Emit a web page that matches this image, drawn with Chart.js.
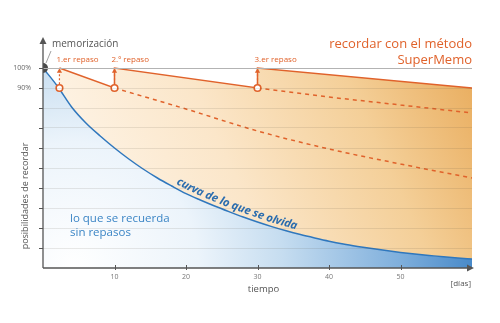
<!DOCTYPE html>
<html>
<head>
<meta charset="utf-8">
<script src="https://cdn.jsdelivr.net/npm/chart.js@4.4.1/dist/chart.umd.min.js"></script>
<style>
  html, body { margin: 0; padding: 0; background: #fff; }
  #wrap { width: 500px; height: 323px; position: relative; }
</style>
</head>
<body>
<div id="wrap"><canvas id="curvaOlvido"></canvas></div>
<script>
// datos
const days = [0, 2, 4, 6, 8, 10, 12, 14, 16, 18, 20, 22, 24, 26, 28, 30, 32, 34, 36, 38, 40, 42, 44, 46, 48, 50, 52, 54, 56, 58, 60];
const forgetting = [100, 91, 80.5, 72.5, 66, 60, 54.5, 49.5, 45, 41, 37.2, 34, 31, 28.2, 25.5, 23, 20.7, 18.6, 16.7, 15, 13.4, 12, 10.8, 9.7, 8.7, 7.8, 7, 6.3, 5.6, 5, 4.5];

const repasoDays = [2.3, 10, 30];
const repasoLabels = ['1.er repaso', '2.º repaso', '3.er repaso'];
const repasoLevel = 90;

const supermemoX = [2.3, 10, 10, 30, 30, 60];
const supermemoY = [100, 90, 100, 90, 100, 90];

const decay2X = [10, 20, 30, 40, 50, 60];
const decay2Y = [90, 79.5, 68.5, 59.5, 52, 45];
const decay3X = [30, 40, 50, 60];
const decay3Y = [90, 85.5, 81.5, 77.5];

const xTicks = [10, 20, 30, 40, 50];
const yTickLabels = { 100: '100%', 90: '90%' };

const ORANGE = '#e0622b';
const BLUE = '#2f77bd';
const GREY = '#555';
const FONT = "'Open Sans', sans-serif";

const zip = (xs, ys) => xs.map((x, i) => ({ x, y: ys[i] }));

function blueFill(ctx) {
  const a = ctx.chart.chartArea;
  if (!a) return '#cfe1f2';
  const g = ctx.chart.ctx.createRadialGradient(a.left + 30, a.bottom, 0, a.left + 30, a.bottom, a.right - a.left - 10);
  g.addColorStop(0, '#ffffff');
  g.addColorStop(0.3, '#ecf4fb');
  g.addColorStop(0.5, '#c6ddf0');
  g.addColorStop(0.78, '#7fafdc');
  g.addColorStop(1, '#3a80c4');
  return g;
}

function orangeFill(ctx) {
  const a = ctx.chart.chartArea;
  if (!a) return '#f8dcb5';
  const g = ctx.chart.ctx.createLinearGradient(a.left, a.bottom, a.right, a.top + 30);
  g.addColorStop(0, '#fffaf4');
  g.addColorStop(0.45, '#fbe6c9');
  g.addColorStop(0.75, '#f4cf98');
  g.addColorStop(1, '#e9ad5e');
  return g;
}

const arrowSets = repasoDays.map(d => ({
  data: [{ x: d, y: 91.9 }, { x: d, y: 98.4 }],
  borderColor: ORANGE,
  borderWidth: 1.2,
  borderDash: [2, 2],
  pointRadius: [0, 3],
  pointStyle: 'triangle',
  pointBackgroundColor: ORANGE,
  pointBorderColor: ORANGE,
  pointBorderWidth: 0,
  fill: false,
  order: 1
}));

const annotations = {
  id: 'annotations',
  afterDraw(chart) {
    const { ctx, scales: { x, y }, chartArea: a } = chart;
    ctx.save();
    // ejes
    ctx.strokeStyle = GREY;
    ctx.fillStyle = GREY;
    ctx.lineWidth = 1.3;
    ctx.beginPath();
    ctx.moveTo(a.left, a.bottom);
    ctx.lineTo(a.left, a.top + 4);
    ctx.moveTo(a.left, a.bottom);
    ctx.lineTo(a.right - 3, a.bottom);
    ctx.stroke();
    ctx.beginPath();
    ctx.moveTo(a.left, a.top - 1);
    ctx.lineTo(a.left - 3.5, a.top + 6);
    ctx.lineTo(a.left + 3.5, a.top + 6);
    ctx.closePath();
    ctx.fill();
    ctx.beginPath();
    ctx.moveTo(a.right + 2, a.bottom);
    ctx.lineTo(a.right - 5, a.bottom - 3.5);
    ctx.lineTo(a.right - 5, a.bottom + 3.5);
    ctx.closePath();
    ctx.fill();
    ctx.lineWidth = 1;
    ctx.beginPath();
    for (let v = 10; v <= 100; v += 10) {
      const py = Math.round(y.getPixelForValue(v)) + 0.5;
      ctx.moveTo(a.left - 4, py);
      ctx.lineTo(a.left, py);
    }
    xTicks.forEach(v => {
      const px = Math.round(x.getPixelForValue(v)) + 0.5;
      ctx.moveTo(px, a.bottom - 3);
      ctx.lineTo(px, a.bottom + 2);
    });
    ctx.stroke();

    // memorizacion
    const ox = x.getPixelForValue(0), oy = y.getPixelForValue(100);
    ctx.strokeStyle = '#888';
    ctx.lineWidth = 0.8;
    ctx.beginPath();
    ctx.moveTo(ox + 3, oy - 5);
    ctx.lineTo(ox + 8, oy - 17);
    ctx.stroke();
    ctx.fillStyle = GREY;
    ctx.font = `10px ${FONT}`;
    ctx.textBaseline = 'middle';
    ctx.textAlign = 'left';
    ctx.fillText('memorización', 52, 44);

    // titulos de ejes
    ctx.font = `9.5px ${FONT}`;
    ctx.textAlign = 'center';
    ctx.fillText('tiempo', x.getPixelForValue(30) + 6, 289);
    ctx.font = `8px ${FONT}`;
    ctx.textAlign = 'right';
    ctx.fillText('[días]', a.right - 1, 284);
    ctx.save();
    ctx.translate(25, 196);
    ctx.rotate(-Math.PI / 2);
    ctx.textAlign = 'center';
    ctx.font = `9px ${FONT}`;
    ctx.fillText('posibilidades de recordar', 0, 0);
    ctx.restore();

    // repasos
    ctx.fillStyle = ORANGE;
    ctx.font = `8px ${FONT}`;
    ctx.textAlign = 'left';
    repasoDays.forEach((d, i) => {
      ctx.fillText(repasoLabels[i], x.getPixelForValue(d) - 3, 60);
    });
    ctx.font = `13px ${FONT}`;
    ctx.textAlign = 'right';
    ctx.fillText('recordar con el método', a.right, 44);
    ctx.fillText('SuperMemo', a.right, 60);

    // textos azules
    ctx.fillStyle = '#3b85c5';
    ctx.font = `11.5px ${FONT}`;
    ctx.textAlign = 'left';
    ctx.fillText('lo que se recuerda', 70, 219);
    ctx.fillText('sin repasos', 70, 233);

    // texto a lo largo de la curva
    const pts = chart.getDatasetMeta(0).data.map(p => ({ x: p.x, y: p.y }));
    const text = 'curva de lo que se olvida';
    ctx.font = `italic bold 11.2px ${FONT}`;
    ctx.fillStyle = '#2a6cae';
    ctx.textAlign = 'left';
    ctx.textBaseline = 'alphabetic';
    const startX = 174;
    let seg = 0;
    while (seg < pts.length - 1 && pts[seg + 1].x < startX) seg++;
    const t = (startX - pts[seg].x) / (pts[seg + 1].x - pts[seg].x);
    let pos = { x: startX, y: pts[seg].y + t * (pts[seg + 1].y - pts[seg].y) };
    for (const ch of text) {
      const w = ctx.measureText(ch).width;
      let p1 = pts[seg + 1];
      const p0 = pts[seg];
      const ang = Math.atan2(p1.y - p0.y, p1.x - p0.x);
      ctx.save();
      ctx.translate(pos.x, pos.y);
      ctx.rotate(ang);
      ctx.fillText(ch, 0, -4);
      ctx.restore();
      // avanzar w a lo largo de la polilinea
      let remaining = w;
      while (remaining > 0 && seg < pts.length - 1) {
        p1 = pts[seg + 1];
        const dx = p1.x - pos.x, dy = p1.y - pos.y;
        const dist = Math.hypot(dx, dy);
        if (dist >= remaining) {
          pos = { x: pos.x + dx / dist * remaining, y: pos.y + dy / dist * remaining };
          remaining = 0;
        } else {
          remaining -= dist;
          pos = { x: p1.x, y: p1.y };
          seg++;
        }
      }
    }
    ctx.restore();
  }
};

new Chart(document.getElementById('curvaOlvido'), {
  type: 'line',
  data: {
    datasets: [
      {
        data: zip(days, forgetting),
        borderColor: BLUE,
        borderWidth: 1.5,
        backgroundColor: blueFill,
        fill: 'origin',
        pointRadius: 0,
        cubicInterpolationMode: 'monotone',
        order: 3
      },
      {
        data: zip(supermemoX, supermemoY),
        borderColor: ORANGE,
        borderWidth: 1.5,
        backgroundColor: orangeFill,
        fill: 'origin',
        pointRadius: 0,
        tension: 0,
        order: 4
      },
      {
        data: zip(decay2X, decay2Y),
        borderColor: ORANGE,
        borderWidth: 1.5,
        borderDash: [4, 4],
        pointRadius: 0,
        cubicInterpolationMode: 'monotone',
        fill: false,
        order: 2
      },
      {
        data: zip(decay3X, decay3Y),
        borderColor: ORANGE,
        borderWidth: 1.5,
        borderDash: [4, 4],
        pointRadius: 0,
        cubicInterpolationMode: 'monotone',
        fill: false,
        order: 2
      },
      ...arrowSets,
      {
        data: repasoDays.map(d => ({ x: d, y: repasoLevel })),
        showLine: false,
        pointRadius: 3.3,
        pointBorderWidth: 1.6,
        pointBackgroundColor: '#fff',
        pointBorderColor: ORANGE,
        fill: false,
        order: 0
      },
      {
        data: [{ x: 0, y: 100 }],
        showLine: false,
        pointRadius: 5,
        pointBorderWidth: 0,
        pointBackgroundColor: '#4a4a4a',
        fill: false,
        order: 0
      }
    ]
  },
  options: {
    responsive: true,
    maintainAspectRatio: false,
    animation: false,
    layout: { padding: { top: 38, right: 28, left: 0, bottom: 0 } },
    plugins: { legend: { display: false }, tooltip: { enabled: false } },
    scales: {
      x: {
        type: 'linear',
        min: 0,
        max: 60,
        grid: { display: false, drawTicks: false },
        border: { display: false },
        ticks: {
          stepSize: 10,
          padding: 5,
          color: '#777',
          font: { size: 7, family: FONT },
          maxRotation: 0,
          callback: v => xTicks.includes(v) ? String(v) : ''
        },
        afterFit: s => { s.height = 55; }
      },
      y: {
        min: 0,
        max: 115,
        border: { display: false },
        grid: {
          z: 1,
          drawTicks: false,
          lineWidth: 1,
          color: c => {
            const v = c.tick && c.tick.value;
            if (v === 100) return '#b3b3b3';
            if (v > 0 && v < 100) return 'rgba(80,70,60,0.12)';
            return 'rgba(0,0,0,0)';
          }
        },
        ticks: {
          stepSize: 10,
          padding: 12,
          color: '#666',
          font: { size: 7, family: FONT },
          callback: v => yTickLabels[v] || ''
        },
        afterFit: s => { s.width = 43; }
      }
    }
  },
  plugins: [annotations]
});
</script>
</body>
</html>
